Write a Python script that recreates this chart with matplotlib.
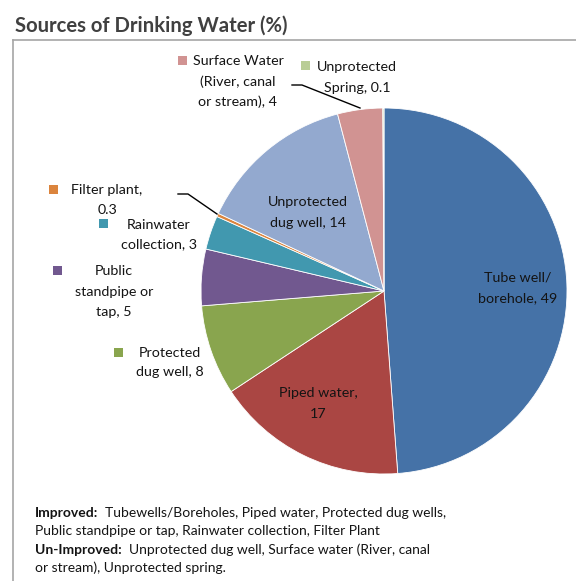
import matplotlib
matplotlib.use("Agg")
import matplotlib.pyplot as plt
from matplotlib.patches import Rectangle
from matplotlib.lines import Line2D

plt.rcParams['font.family'] = ['Lato', 'DejaVu Sans']

categories = ["Tube well/\nborehole", "Piped water,\n", "Protected\ndug well", "Public\nstandpipe or\ntap",
              "Rainwater\ncollection", "Filter plant,\n", "Unprotected\ndug well", "Surface Water\n(River, canal\nor stream)",
              "Unprotected\nSpring"]
values = [49, 17, 8, 5, 3, 0.3, 14, 4, 0.1]
value_labels = ["49", "17", "8", "5", "3", "0.3", "14", "4", "0.1"]
colors = ["#4572A7", "#AA4643", "#89A54E", "#71588F", "#4198AF", "#DB843D", "#93A9CF", "#D19392", "#B9CD96"]

W, H = 576, 581
fig = plt.figure(figsize=(W / 100, H / 100), dpi=100)
ax = fig.add_axes([0, 0, 1, 1])

def Y(y):  # pixel-from-top -> data
    return H - y

cx, cy, R = 384, 291, 183
ax.pie(values, colors=colors, startangle=90, counterclock=False, center=(cx, Y(cy)), radius=R,
       wedgeprops=dict(edgecolor='white', linewidth=0.6), frame=True)
ax.set_xlim(0, W)
ax.set_ylim(0, H)
ax.set_aspect('equal')
ax.axis('off')

# frame
ax.add_line(Line2D([13, 13], [Y(40), 0], color="#A6A6A6", lw=1.2))
ax.add_line(Line2D([13, W], [Y(40), Y(40)], color="#A6A6A6", lw=1.2))

# title
ax.text(15, Y(26), "Sources of Drinking Water (%)", fontsize=14.6, fontweight='bold', color="#404040",
        ha='left', va='center')

fs = 10.3
tc = "#141414"
def label_lines(lines, x, ys, **kw):
    for t, yy in zip(lines, ys):
        ax.text(x, Y(yy), t, fontsize=fs, color=tc, ha='center', va='center', **kw)

def key(x, y, c):
    ax.add_patch(Rectangle((x - 4.5, Y(y) - 4.5), 9, 9, facecolor=c, edgecolor='none'))

# inside labels
label_lines(["Tube well/", "borehole, " + value_labels[0]], 518, [278, 298])
label_lines(["Piped water,", value_labels[1]], 318, [393, 414])
label_lines(["Unprotected", "dug well, " + value_labels[6]], 308, [202, 223])

# outside labels
key(182, 60, colors[7])
label_lines(["Surface Water", "(River, canal", "or stream), " + value_labels[7]], 238, [61, 82, 102])
key(305, 65, colors[8])
label_lines(["Unprotected", "Spring, " + value_labels[8]], 357, [67, 88])
key(53, 189, colors[5])
label_lines(["Filter plant,", value_labels[5]], 107, [190, 210])
key(103, 223, colors[4])
label_lines(["Rainwater", "collection, " + value_labels[4]], 159, [225, 244])
key(57, 270, colors[3])
label_lines(["Public", "standpipe or", "tap, " + value_labels[3]], 114, [271, 292, 312])
key(118, 352, colors[2])
label_lines(["Protected", "dug well, " + value_labels[2]], 170, [353, 372])

# leader lines
ax.add_line(Line2D([292, 302, 360], [Y(85), Y(85), Y(108)], color='black', lw=1))
ax.add_line(Line2D([178, 188, 217], [Y(194), Y(194), Y(214)], color='black', lw=1))

# footnote
fs2 = 10.0
y1, y2, y3, y4 = 513, 531, 550, 568
t = ax.text(35, Y(y1), "Improved:", fontsize=fs2, fontweight='bold', color=tc, va='center', ha='left')
ax.annotate("  Tubewells/Boreholes, Piped water, Protected dug wells,", xycoords=t, xy=(1, 0.5),
            va='center', ha='left', fontsize=fs2, color=tc)
ax.text(35, Y(y2), "Public standpipe or tap, Rainwater collection, Filter Plant", fontsize=fs2, color=tc,
        va='center', ha='left')
t2 = ax.text(35, Y(y3), "Un-Improved:", fontsize=fs2, fontweight='bold', color=tc, va='center', ha='left')
ax.annotate("  Unprotected dug well, Surface water (River, canal", xycoords=t2, xy=(1, 0.5),
            va='center', ha='left', fontsize=fs2, color=tc)
ax.text(35, Y(y4), "or stream), Unprotected spring.", fontsize=fs2, color=tc, va='center', ha='left')

fig.savefig("out.png", dpi=100, facecolor='white')
